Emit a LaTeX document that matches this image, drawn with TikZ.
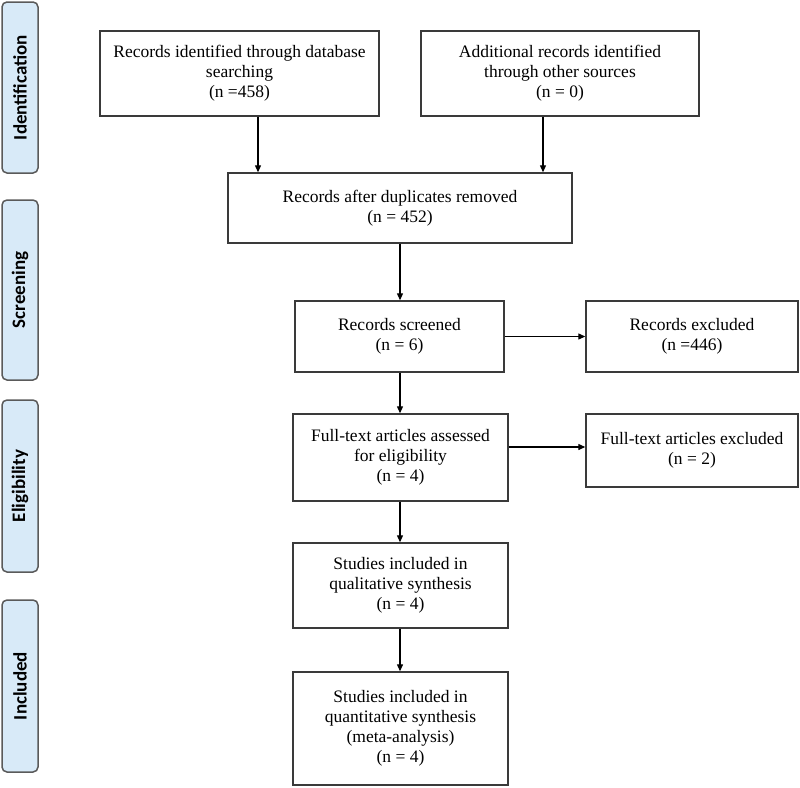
\documentclass[tikz,border=0pt]{standalone}
\usepackage{fontspec}
\setmainfont{Liberation Serif}
\newfontfamily\sidefont{Carlito}
\usetikzlibrary{arrows.meta}
\definecolor{sidefill}{HTML}{D8EAF8}
\definecolor{sideline}{HTML}{5A5A5A}
\definecolor{boxline}{HTML}{3A3A3A}
\begin{document}
\begin{tikzpicture}[x=1pt,y=-1pt,
  flowbox/.style={draw=boxline,line width=1.4pt,rectangle,align=center,inner sep=0pt,
    font=\fontsize{17.5}{20}\selectfont},
  sidebox/.style={draw=sideline,fill=sidefill,line width=1.5pt,rounded corners=5pt,
    minimum width=36pt,inner sep=0pt},
  sidelabel/.style={rotate=90,font=\sidefont\bfseries\fontsize{19}{22}\selectfont},
  arr/.style={-{Triangle[length=7pt,width=6pt]},line width=1.2pt,black}]
\useasboundingbox (0,0) rectangle (800,787);
% side boxes
\node[sidebox,minimum height=171pt] (sid) at (20,87.5) {};
\node[sidelabel] (sidt) at (sid.center) {Identification};
\node[sidebox,minimum height=180pt] (sscr) at (20,290) {};
\node[sidelabel] (sscrt) at (sscr.center) {Screening};
\node[sidebox,minimum height=172pt] (selg) at (20,486) {};
\node[sidelabel] (selgt) at (selg.center) {Eligibility};
\node[sidebox,minimum height=172pt] (sinc) at (20,686) {};
\node[sidelabel] (sinct) at (sinc.center) {Included};
% flow boxes
\node[flowbox,minimum width=279pt,minimum height=85pt] (db) at (239.5,73.5)
  {Records identified through database\\searching\\(n =458)};
\node[flowbox,minimum width=278pt,minimum height=85pt] (oth) at (560,73.5)
  {Additional records identified\\through other sources\\(n = 0)};
\node[flowbox,minimum width=344pt,minimum height=70pt] (dup) at (400,208)
  {Records after duplicates removed\\(n = 452)};
\node[flowbox,minimum width=209pt,minimum height=71pt] (scr) at (399.5,336.5)
  {Records screened\\(n = 6)};
\node[flowbox,minimum width=212pt,minimum height=71pt] (exc) at (692,336.5)
  {Records excluded\\(n =446)};
\node[flowbox,minimum width=215pt,minimum height=87pt] (ft) at (400.5,457.5)
  {Full-text articles assessed\\for eligibility\\(n = 4)};
\node[flowbox,minimum width=212pt,minimum height=73pt] (ftx) at (692,450.5)
  {Full-text articles excluded\\(n = 2)};
\node[flowbox,minimum width=215pt,minimum height=85pt] (qual) at (400.5,585.5)
  {Studies included in\\qualitative synthesis\\(n = 4)};
\node[flowbox,minimum width=215pt,minimum height=113pt] (quant) at (400.5,728.5)
  {Studies included in\\quantitative synthesis\\(meta-analysis)\\(n = 4)};
% connectors
\draw[arr] (db.south -| 258,0) -- (dup.north -| 258,0);
\draw[arr] (oth.south -| 543,0) -- (dup.north -| 543,0);
\draw[arr] (dup.south -| 400,0) -- (scr.north -| 400,0);
\draw[arr] (scr.east) -- (exc.west);
\draw[arr] (scr.south -| 400,0) -- (ft.north -| 400,0);
\draw[arr] (ft.east |- 0,447) -- (ftx.west |- 0,447);
\draw[arr] (ft.south -| 400,0) -- (qual.north -| 400,0);
\draw[arr] (qual.south -| 400,0) -- (quant.north -| 400,0);
\end{tikzpicture}
\end{document}
